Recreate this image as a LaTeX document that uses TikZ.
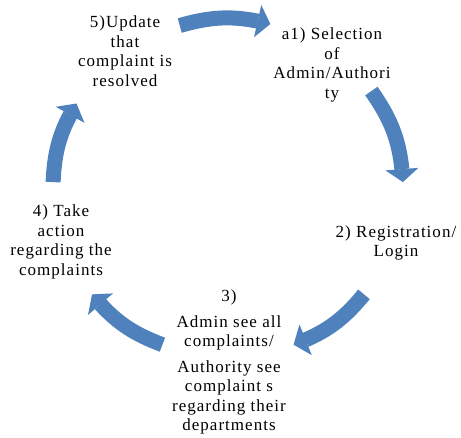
\documentclass[tikz,border=0pt]{standalone}
\usepackage{fontspec}
\setmainfont[LetterSpace=6]{Liberation Serif}
\usetikzlibrary{arrows.meta}
\usetikzlibrary{bending}
\usetikzlibrary{calc}
\definecolor{cycleblue}{HTML}{4F81BD}
\tikzset{
	stepnote/.style={align=center, inner sep=0pt, font=\fontsize{17}{19.5}\selectfont},
	cyclearrow/.style={draw=cycleblue, line width=15pt, -{Triangle[length=13pt,width=33pt,line width=0pt,flex]}}
}

\begin{document}
\begin{tikzpicture}[x=1pt,y=1pt]
	\useasboundingbox (0,0) rectangle (461,437);
	\node[stepnote] (n5) at (125,386) {5)Update\\that\\complaint is\\resolved};
	\node[stepnote] (n1) at (332,372) {a1) Selection\\of\\Admin/Authori\\ty};
	\node[stepnote] (n2) at (396,194) {2) Registration/\\Login};
	\node[stepnote] (n3) at (229,75) {3)\\[6pt]Admin see all\\complaints/\\[6pt]Authority see\\complaint s\\regarding their\\departments};
	\node[stepnote] (n4) at (61,195) {4) Take\\action\\regarding the\\complaints};
	% arrow ends on the ring
	\coordinate (o) at (228,249);
	\coordinate (t51) at ($(o)+(106:175 and 169)$);
	\coordinate (h51) at ($(o)+(76:175 and 169)$);
	\coordinate (t12) at ($(o)+(35:175 and 169)$);
	\coordinate (h12) at ($(o)+(2:175 and 169)$);
	\coordinate (t23) at ($(o)+(-39:175 and 169)$);
	\coordinate (h23) at ($(o)+(-68:175 and 169)$);
	\coordinate (t34) at ($(o)+(-112:175 and 169)$);
	\coordinate (h34) at ($(o)+(-141:175 and 169)$);
	\coordinate (t45) at ($(o)+(178:175 and 169)$);
	\coordinate (h45) at ($(o)+(150:175 and 169)$);
	\draw[cyclearrow] (t51) to[bend left=15] (h51);
	\draw[cyclearrow] (t12) to[bend left=16] (h12);
	\draw[cyclearrow] (t23) to[bend left=15] (h23);
	\draw[cyclearrow] (t34) to[bend left=15] (h34);
	\draw[cyclearrow] (t45) to[bend left=14] (h45);
\end{tikzpicture}
\end{document}
